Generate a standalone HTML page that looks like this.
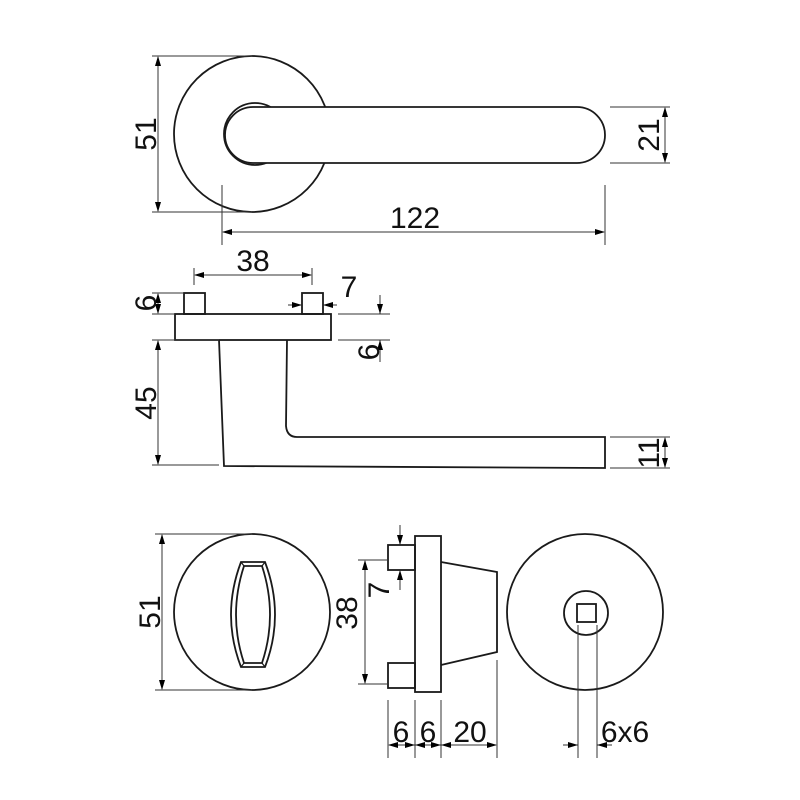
<!DOCTYPE html>
<html><head><style>body{margin:0;background:#fff}svg{display:block}</style></head><body>
<svg width="800" height="800" viewBox="0 0 800 800" xmlns="http://www.w3.org/2000/svg">
<g fill="none" stroke="#1a1a1a" stroke-width="1.8">
<circle cx="252" cy="134" r="78"/>
<circle cx="255" cy="134" r="31" fill="#fff"/>
<rect x="225" y="107" width="380" height="56" rx="28" fill="#fff"/>
<rect x="175" y="314" width="156" height="26"/>
<rect x="184" y="293" width="21" height="21"/>
<rect x="302" y="293" width="21" height="21"/>
<path d="M219,340 L224,466 L605,468 L605,437 L297,437 Q287,437 286,426 L287,340"/>
<circle cx="252" cy="612" r="78"/>
<path d="M241,562 L265,562 Q285,615 265,667 L241,667 Q221,615 241,562Z"/>
<path d="M244,566 L262,566 Q278,615 262,663 L244,663 Q228,615 244,566Z"/>
<path d="M241,562 L244,566 M265,562 L262,566 M241,667 L244,663 M265,667 L262,663" stroke-width="1.2"/>
<rect x="388" y="545" width="27" height="25"/>
<rect x="388" y="663" width="27" height="25"/>
<rect x="415" y="536" width="26" height="156"/>
<path d="M441,562 L497,572 L497,652 L441,665"/>
<circle cx="585" cy="612" r="78"/>
<circle cx="586" cy="613" r="22"/>
<rect x="577" y="604" width="19" height="18"/>
</g>
<g fill="none" stroke="#333" stroke-width="1">
<path d="M152,56H252M152,212H252M610,107H670M610,163H670M222,185V245M605,185V245"/>
<path d="M194,268V285M312,268V285M152,293H184M152,314H175M338,314H390M338,340H390M152,340H219M152,465H219M610,437H670M610,468H670"/>
<path d="M155,534H252M155,690H252M358,560H388M358,684H388M388,700V758M415,700V758M441,700V758M497,660V758M578,625V758M597,625V758"/>
<path d="M158,57V211M665,108V162M223,232H604M195,275H311M158,294V313M158,341V464M665,438V467"/>
<path d="M288,305H302M337,305H323M380,295V314M380,362V340"/>
<path d="M162,535V689M365,561V683M400,525V545M400,590V570M389,745H496M563,745H578M612,745H597"/>
</g>
<path fill="#000" d="
M158,56l-3,10h6z M158,212l-3,-10h6z
M665,107l-3,10h6z M665,163l-3,-10h6z
M222,232l10,-3v6z M605,232l-10,-3v6z
M194,275l10,-3v6z M312,275l-10,-3v6z
M158,293l-3,10h6z M158,314l-3,-10h6z
M158,340l-3,10h6z M158,465l-3,-10h6z
M665,437l-3,10h6z M665,468l-3,-10h6z
M302,305l-10,-3v6z M323,305l10,-3v6z
M380,314l-3,-10h6z M380,340l-3,10h6z
M162,534l-3,10h6z M162,690l-3,-10h6z
M365,560l-3,10h6z M365,684l-3,-10h6z
M400,545l-3,-10h6z M400,570l-3,10h6z
M388,745l10,-3v6z M415,745l-10,-3v6z M415,745l10,-3v6z M441,745l-10,-3v6z M441,745l10,-3v6z M497,745l-10,-3v6z
M578,745l-10,-3v6z M597,745l10,-3v6z"/>
<g font-family="Liberation Sans, sans-serif" font-size="30" fill="#111" text-anchor="middle">
<text transform="translate(156,134) rotate(-90)">51</text>
<text transform="translate(659,135) rotate(-90)">21</text>
<text x="415" y="228">122</text>
<text x="253" y="271">38</text>
<text transform="translate(156,303) rotate(-90)">6</text>
<text x="349" y="297">7</text>
<text transform="translate(379,352) rotate(-90)">6</text>
<text transform="translate(156,403) rotate(-90)">45</text>
<text transform="translate(659,453) rotate(-90)">11</text>
<text transform="translate(160,612) rotate(-90)">51</text>
<text transform="translate(357,613) rotate(-90)">38</text>
<text transform="translate(389,590) rotate(-90)">7</text>
<text x="401" y="742">6</text>
<text x="428" y="742">6</text>
<text x="470" y="742">20</text>
<text x="625" y="742">6x6</text>
</g>
</svg>
</body></html>
